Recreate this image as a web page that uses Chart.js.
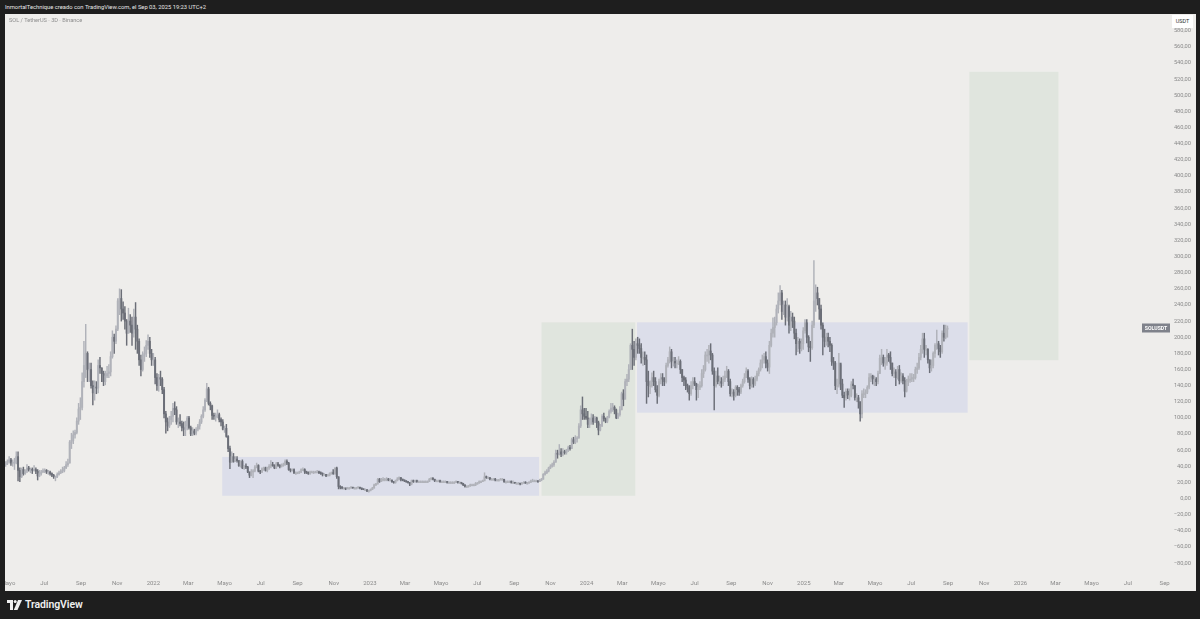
<!DOCTYPE html>
<html><head><meta charset="utf-8">
<script src="https://cdn.jsdelivr.net/npm/chart.js@4.4.1/dist/chart.umd.min.js"></script>
<style>
html,body{margin:0;padding:0;background:#1e1e1e;width:1200px;height:619px;overflow:hidden;font-family:Roboto,"Liberation Sans",sans-serif}
#hdr{position:absolute;left:5px;top:3px;font-size:5.8px;line-height:8px;color:#e8e8e8;white-space:nowrap}
#panel{position:absolute;left:5px;top:14px;width:1191px;height:577px;background:#eeedeb}
#ttl{position:absolute;left:4px;top:3px;font-size:5.6px;line-height:7px;color:#8d8d8d;white-space:nowrap;z-index:2}
#usdt{position:absolute;left:1167px;top:1px;width:21px;height:13px;background:#fff;font-size:5.5px;color:#333;text-align:center;line-height:13px;z-index:2}
#cv{position:absolute;left:0;top:0}
#logo{position:absolute;left:7px;top:598px;height:13px;display:flex;align-items:center;color:#f0f0f0;font-size:10.5px;font-weight:600;letter-spacing:-0.1px}
#logo svg{margin-right:3px}
</style></head><body>
<div id="hdr">InmortalTechnique creado con TradingView.com, el Sep 03, 2025 19:23 UTC+2</div>
<div id="panel">
  <div id="ttl">SOL / TetherUS · 3D · Binance</div>
  <div id="usdt">USDT</div>
  <canvas id="cv" width="1186" height="577"></canvas>
</div>
<div id="logo"><svg width="15" height="10" viewBox="0 0 15 10"><rect x="0" y="0" width="6" height="3" fill="#f0f0f0"/><rect x="3" y="0" width="3" height="10" fill="#f0f0f0"/><circle cx="8.2" cy="1.6" r="1.5" fill="#f0f0f0"/><polygon points="11,0 15,0 10.5,10 6.8,10" fill="#f0f0f0"/></svg>TradingView</div>
<script>
// ---- data (3D candles SOL/USDT, first candle 2021-04-27) ----
const startDate = '2021-04-27';
const stepDays = 3;
const firstOpen = 42;
const closes = [
// 2021
44,46,48,44,45,45,52,35,27,36,31,34,
38,36,36,35,36,34,28,31,33,34,
35,33,33,31,29,27,27,30,32,34,
35,38,42,44,70,72,79,82,96,111,113,
145,165,180,160,160,140,131,138,137,165,
162,155,145,152,155,157,176,200,195,210,
245,248,235,230,220,205,220,215,205,225,
210,195,172,160,178,180,190,195,180,172,
// 2022
172,150,140,150,148,135,105,95,90,98,
102,112,110,95,95,93,88,86,90,100,
88,80,84,81,86,90,95,102,110,122,
136,118,115,103,102,102,104,98,95,86,
87,77,62,45,52,46,49,47,41,46,38,
40,39,33,29,33,34,39,41,34,33,
37,38,35,38,40,42,41,38,43,41,
40,41,42,46,44,36,35,36,32,32,
32,33,36,36,33,32,31,33,33,33,
33,33,32,31,30,30,28,29,31,32,31,
38,27,15,14,13,13,12,13,13,14,
13,13,13,14,13,12,11,11,9,10,
// 2023
11,13,17,18,24,21,24,24,24,24,
23,23,21,20,22,24,26,24,23,22,
21,20,18,22,21,22,21,21,21,21,
21,21,21,24,25,24,22,22,22,21,
21,21,21,20,20,20,20,20,21,20,
20,19,17,15,15,16,17,17,17,19,
19,21,21,22,27,26,26,24,24,24,23,
23,23,24,24,21,21,21,21,20,20,
19,19,19,18,19,20,19,19,20,22,
22,22,22,21,23,24,30,32,34,38,
40,42,45,56,55,58,55,58,57,60,
63,62,73,70,74,75,90,110,105,102,100,
// 2024
92,98,100,95,100,94,85,90,102,99,
96,101,108,112,113,110,100,104,110,130,
123,145,148,160,190,185,175,192,190,186,
175,175,172,145,140,140,150,145,135,128,
145,150,148,145,165,172,182,170,170,168,
168,170,160,150,147,140,137,130,140,145,
142,135,138,140,155,160,178,178,183,178,158,
140,152,145,145,143,148,152,158,145,130,
132,128,138,135,132,140,145,150,158,148,
140,148,142,148,155,160,168,172,176,168,
163,190,205,212,218,235,245,255,232,240,
225,238,215,225,220,205,192,195,186,192,208,
// 2025
218,200,188,187,215,245,255,248,235,215,
200,195,200,195,190,170,168,140,140,
168,142,128,125,133,128,128,142,140,125,125,
120,105,130,130,132,138,150,152,148,148,
145,155,174,175,168,168,178,175,168,155,
157,150,160,146,152,146,133,145,148,148,
150,150,160,162,175,185,198,185,185,172,
162,165,180,190,192,186,182,205,200,210,211
];
const highs = [
46,48,52,50,48,50,58,58,38,38,39,36,
42,40,38,38,41,38,36,35,35,37,
37,36,35,34,32,30,28,32,34,36,
39,40,46,49,72,81,84,85,100,118,125,
156,195,216,182,168,168,146,146,145,172,
175,162,158,158,164,166,182,208,204,214,
248,260,259,244,238,222,236,228,225,235,
243,215,198,178,182,188,196,203,200,185,
180,175,155,154,158,150,138,108,100,102,
108,118,120,114,100,104,96,95,96,102,
102,90,88,86,88,92,98,104,114,124,
143,138,120,116,106,106,110,106,100,98,
90,92,78,65,58,56,52,52,47,47,48,
41,43,40,33,36,36,41,44,42,35,
38,39,39,39,42,47,45,42,45,45,
42,43,44,48,48,45,37,37,37,33,
33,34,37,38,37,34,33,34,34,34,
34,35,34,33,32,31,30,30,32,33,36,
38,39,27,16,15,14,13,14,14,15,
14,14,14,15,14,13,12,12,11,10.5,
12,14,18,19,25,25,25,26,25,26,
25,25,23,21,23,26,27,26,24,23,
22,21,20,23,23,23,23,22,22,22,
22,22,22,25,26,26,24,23,23,23,
22,22,22,21,21,21,21,21,22,21,
21,20,19,17,16,16,18,18,18,20,
20,22,22,23,32,28,27,26,25,25,25,
24,24,25,25,24,22,22,22,22,22,
20,20,20,19,20,21,21,20,21,23,
24,23,23,22,24,25,31,34,36,39,
42,44,47,60,60,67,62,62,60,61,
65,66,75,76,78,77,93,115,126,112,112,
108,100,105,104,102,101,96,92,104,106,
100,102,110,118,118,115,111,106,114,132,
135,148,154,166,192,210,195,198,200,198,
192,182,182,178,158,146,156,158,150,140,
148,155,155,150,168,175,188,185,175,175,
172,176,172,160,152,150,142,140,145,150,
150,143,142,145,160,165,182,185,190,192,180,
162,158,162,152,150,152,158,164,160,148,
136,135,140,140,138,142,148,155,162,160,
150,151,150,152,158,162,172,178,180,182,
172,195,210,224,225,240,255,264,258,245,
245,248,240,232,230,225,210,200,198,198,212,
222,222,202,195,220,295,265,262,248,240,
218,210,205,205,200,192,175,170,148,
180,166,148,132,136,136,136,145,148,140,130,
128,120,134,136,135,140,155,155,153,152,
150,158,178,185,178,175,185,180,182,168,
162,160,164,165,156,155,150,148,152,155,
155,154,163,168,180,190,205,205,190,186,
172,172,182,192,209,195,190,208,215,215,214
];
const lows = [
40,42,44,41,40,36,43,22,21,26,29,30,
32,34,32,31,34,31,23,27,29,32,
32,31,30,29,27,25,22,26,29,31,
32,33,37,40,44,62,68,75,80,92,98,
110,138,150,145,145,137,116,122,130,131,
155,145,140,141,150,150,152,174,180,192,
208,228,220,222,210,190,205,206,190,200,
185,180,165,152,158,170,176,185,175,165,
165,142,134,133,140,130,100,81,84,88,
92,95,104,92,88,90,84,78,78,85,
86,78,78,79,79,84,86,93,100,108,
120,116,110,98,98,96,100,95,90,85,
82,76,58,37,45,45,46,45,40,39,37,
36,37,32,26,28,26,33,38,33,31,
32,35,34,33,36,38,40,37,37,40,
38,39,40,41,42,35,33,34,31,30,
31,31,32,35,31,31,30,30,32,31,
32,32,31,30,28,29,27,28,28,30,30,
30,25,12,12,12,12,11,12,12,13,
13,12,13,13,12,11,11,10,9,8,
9.5,11,13,16,18,20,21,22,22,22,
22,22,20,19,19,22,23,22,22,21,
20,19,16,17,20,20,20,20,20,20,
20,20,20,21,23,23,21,21,21,20,
20,20,20,19,19,19,19,19,20,19,
19,18,16,14,14,14,15,16,16,16,
18,19,20,21,22,25,25,23,23,23,22,
22,22,23,23,20,19,20,20,19,19,
19,18,18,17,18,19,19,19,19,20,
21,21,21,20,21,22,24,29,31,33,
37,39,40,45,50,54,52,53,55,55,
58,60,62,68,68,70,75,88,98,98,98,
88,88,92,92,94,88,79,84,89,96,
94,94,100,106,108,105,99,99,102,110,
115,124,140,145,160,160,165,172,180,180,
168,165,166,118,126,130,138,140,132,118,
126,142,140,140,143,163,168,162,164,162,
162,166,155,145,140,135,132,122,128,136,
140,122,125,135,138,150,158,170,168,172,154,
110,138,142,140,138,140,145,150,140,127,
126,122,126,128,128,130,138,143,150,144,
136,138,138,140,146,152,158,162,168,162,
158,155,188,200,200,215,230,240,222,228,
215,220,205,208,212,198,178,182,180,183,185,
205,193,182,170,185,212,232,240,222,210,
178,188,190,188,182,165,160,135,130,
138,135,125,113,122,124,122,126,136,122,120,
112,96,100,125,125,130,136,145,142,140,
140,142,155,166,164,160,165,170,160,152,
150,140,148,142,144,142,126,132,140,144,
145,145,148,155,160,172,180,175,178,168,
156,158,162,175,185,178,175,180,195,198,200
];
// price-scale tick labels
const yTicks = [-80,-60,-40,-20,0,20,40,60,80,100,120,140,160,180,200,220,240,260,280,300,320,340,360,380,400,420,440,460,480,500,520,540,560,580];
// time-scale tick labels
const xTickDates = ['2021-05-01','2021-07-01','2021-09-01','2021-11-01',
 '2022-01-01','2022-03-01','2022-05-01','2022-07-01','2022-09-01','2022-11-01',
 '2023-01-01','2023-03-01','2023-05-01','2023-07-01','2023-09-01','2023-11-01',
 '2024-01-01','2024-03-01','2024-05-01','2024-07-01','2024-09-01','2024-11-01',
 '2025-01-01','2025-03-01','2025-05-01','2025-07-01','2025-09-01','2025-11-01',
 '2026-01-01','2026-03-01','2026-05-01','2026-07-01','2026-09-01'];
const xTickLabels = ['Mayo','Jul','Sep','Nov',
 '2022','Mar','Mayo','Jul','Sep','Nov',
 '2023','Mar','Mayo','Jul','Sep','Nov',
 '2024','Mar','Mayo','Jul','Sep','Nov',
 '2025','Mar','Mayo','Jul','Sep','Nov',
 '2026','Mar','Mayo','Jul','Sep'];
// drawn rectangles (range boxes and projection boxes)
const boxFrom = ['2022-04-27','2023-10-17','2024-03-26','2025-10-07'];
const boxTo   = ['2023-10-13','2024-03-23','2025-10-04','2026-03-06'];
const boxLow  = [3.5, 3.5, 106.5, 171.5];
const boxHigh = [51.6, 218.5, 218.5, 529];
const boxKind = ['range','move','range','move'];
const symbolName = 'SOLUSDT';

// ---- build ----
const EPOCH = Date.UTC(2022,0,1);
function dayOf(s){ return (Date.parse(s+'T00:00:00Z') - EPOCH)/86400000; }
const d0 = dayOf(startDate);
const xs = closes.map((c,i)=> d0 + stepDays*i);
const opens = closes.map((c,i)=> i===0 ? firstOpen : closes[i-1]);
const UP = '#b0b2b9', DOWN = '#6b6e77';
const cols = closes.map((c,i)=> c >= opens[i] ? UP : DOWN);
const xTickVals = xTickDates.map(dayOf);
const boxColor = {range:'#dcdeea', move:'#e0e5de'};
const FONT = 'Roboto, "Liberation Sans", sans-serif';

const boxPlugin = {
  id:'boxes',
  beforeDatasetsDraw(chart){
    const {ctx, chartArea:a, scales:{x,y}} = chart;
    ctx.save();
    ctx.beginPath(); ctx.rect(a.left,a.top,a.right-a.left,a.bottom-a.top); ctx.clip();
    for(let k=0;k<boxFrom.length;k++){
      const x1 = x.getPixelForValue(dayOf(boxFrom[k])), x2 = x.getPixelForValue(dayOf(boxTo[k]));
      const y1 = y.getPixelForValue(boxHigh[k]), y2 = y.getPixelForValue(boxLow[k]);
      ctx.fillStyle = boxColor[boxKind[k]];
      ctx.fillRect(x1,y1,x2-x1,y2-y1);
    }
    ctx.restore();
  },
  afterDraw(chart){
    const {ctx, chartArea:a, scales:{y}} = chart;
    const yy = Math.round(y.getPixelForValue(closes[closes.length-1]));
    ctx.save();
    ctx.fillStyle = '#7f828b';
    ctx.fillRect(a.right-28, yy-4.5, 28, 9);
    ctx.fillStyle = '#ffffff';
    ctx.font = 'bold 5.2px '+FONT;
    ctx.textAlign='center'; ctx.textBaseline='middle';
    ctx.fillText(symbolName, a.right-14, yy+0.5);
    ctx.restore();
  }
};

new Chart(document.getElementById('cv'), {
  type:'bar',
  data:{ datasets:[
    { label:'wick', data: xs.map((d,i)=>({x:d, y:[lows[i], highs[i]]})), backgroundColor: cols,
      barThickness:0.8, grouped:false, borderWidth:0, order:2 },
    { label:'body', data: xs.map((d,i)=>({x:d, y:[opens[i], closes[i]]})), backgroundColor: cols,
      barThickness:1.3, grouped:false, borderWidth:0, minBarLength:1, order:1 }
  ]},
  options:{
    responsive:false, animation:false, devicePixelRatio:1,
    layout:{padding:0},
    plugins:{legend:{display:false}, tooltip:{enabled:false}},
    scales:{
      x:{ type:'linear', min:-250, max:1713, offset:false,
          grid:{display:false, tickLength:0}, border:{display:false},
          afterBuildTicks(s){ s.ticks = xTickVals.map(v=>({value:v})); },
          afterFit(s){ s.height = 17; s.paddingLeft = 0; s.paddingRight = 0; },
          ticks:{ autoSkip:false, maxRotation:0, minRotation:0, padding:6, color:'#8a8a8a',
                  font:{size:6, family:FONT},
                  callback(v,i){ return xTickLabels[i]; } } },
      y:{ type:'linear', position:'right', min:-93.5, max:600.7,
          grid:{display:false}, border:{display:false},
          afterBuildTicks(s){ s.ticks = yTicks.map(v=>({value:v})); },
          afterFit(s){ s.width = 21; s.paddingTop = 0; s.paddingBottom = 0; },
          ticks:{ padding:0, crossAlign:'far', color:'#8a8a8a', font:{size:5.7, family:FONT},
                  callback(v){ const t = Math.abs(v).toFixed(2).replace('.',','); return v<0 ? '\u2212'+t : t; } } }
    }
  },
  plugins:[boxPlugin]
});
</script>
</body></html>
